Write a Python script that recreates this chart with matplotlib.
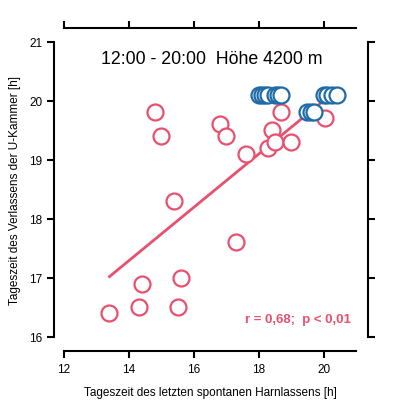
import matplotlib.pyplot as plt

plt.rcParams["font.family"] = ["Liberation Sans", "DejaVu Sans"]

# red open circles (individual values)
red_x = [13.4, 14.3, 14.4, 14.8, 15.0, 15.4, 15.5, 15.6, 16.8, 17.0, 17.3,
         17.6, 18.3, 18.4, 18.5, 18.7, 19.0, 20.05]
red_y = [16.4, 16.5, 16.9, 19.8, 19.4, 18.3, 16.5, 17.0, 19.6, 19.4, 17.6,
         19.1, 19.2, 19.5, 19.3, 19.8, 19.3, 19.7]

# blue open circles (values at the upper limit)
blue_x = [18.0, 18.1, 18.2, 18.3, 18.5, 18.6, 18.7,
          19.5, 19.6, 19.7,
          20.0, 20.1, 20.25, 20.4]
blue_y = [20.1, 20.1, 20.1, 20.1, 20.1, 20.1, 20.1,
          19.8, 19.8, 19.8,
          20.1, 20.1, 20.1, 20.1]

# regression line end points
fit_x = [13.4, 20.0]
fit_y = [17.02, 20.0]

red = "#e8506e"
blue = "#1f6aa8"

fig = plt.figure(figsize=(3.93, 4.14), dpi=100)
ax = fig.add_axes([0.163, 0.184, 0.743, 0.713])

ax.plot(fit_x, fit_y, color=red, lw=2, zorder=2)
ax.plot(red_x, red_y, "o", ms=11.5, mfc="white", mec=red, mew=1.6, zorder=3)
ax.plot(blue_x, blue_y, "o", ms=11.5, mfc="white", mec=blue, mew=1.6, zorder=4)

ax.set_xlim(12, 21)
ax.set_ylim(16, 21)
ax.set_xticks([12, 14, 16, 18, 20])
ax.set_yticks([16, 17, 18, 19, 20, 21])

ax.spines["left"].set_position(("outward", 7))
ax.spines["right"].set_position(("outward", 8.5))
ax.spines["bottom"].set_position(("outward", 10))
ax.spines["top"].set_position(("outward", 10))
for s in ax.spines.values():
    s.set_linewidth(1.5)

ax.tick_params(direction="out", length=5, width=1.5, labelsize=8.5,
               top=True, right=True, labeltop=False, labelright=False)

ax.set_xlabel("Tageszeit des letzten spontanen Harnlassens [h]", fontsize=8.5, labelpad=8)
ax.set_ylabel("Tageszeit des Verlassens der U-Kammer [h]", fontsize=8.5, labelpad=6)

ax.text(16.55, 20.72, "12:00 - 20:00  Höhe 4200 m", fontsize=12.8, ha="center", va="center")
ax.text(20.85, 16.3, "r = 0,68;  p < 0,01", fontsize=9.5, color=red, fontweight="bold",
        ha="right", va="center")

fig.savefig("out.png", dpi=100)
